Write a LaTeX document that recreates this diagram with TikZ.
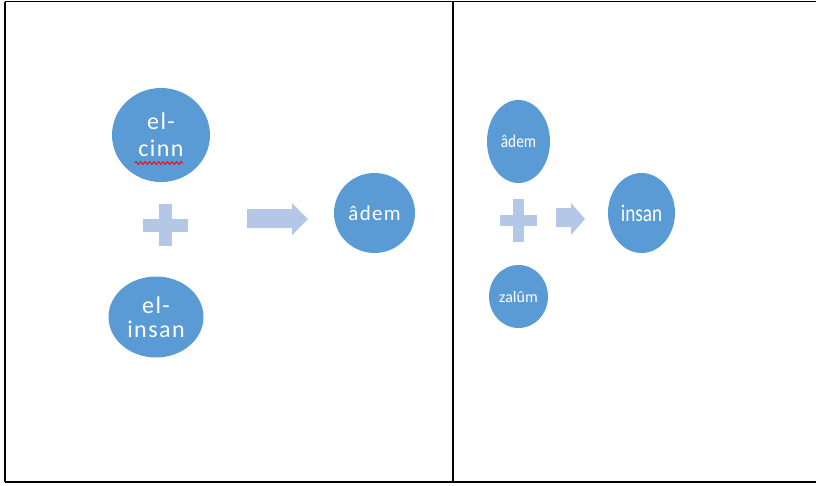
\documentclass[tikz,border=0pt]{standalone}
\usepackage{fontspec}
\setmainfont{Carlito}
\newfontfamily\spaced[LetterSpace=6]{Carlito}
\usetikzlibrary{shapes.geometric,decorations.pathmorphing}
\definecolor{circblue}{HTML}{5B9BD5}
\definecolor{lightblue}{HTML}{B4C7E7}
\tikzset{
  bubble/.style={ellipse, fill=circblue, inner sep=0pt, text=white, align=center},
  blockfill/.style={fill=lightblue, draw=none},
  rule/.style={line width=1.2pt, black},
  thickrule/.style={line width=2.4pt, black}
}
\begin{document}
\begin{tikzpicture}[x=1pt,y=-1pt]
\useasboundingbox (0,0) rectangle (816,485);
% table frame
\coordinate (tl) at (5,1.5);
\coordinate (tr) at (816,1.5);
\coordinate (bl) at (5,482);
\coordinate (br) at (816,482);
\coordinate (mt) at (453,1.5);
\coordinate (mb) at (453,482);
\draw[rule] (tl) -- (tr);
\draw[rule] (mt) -- (mb);
\draw[thickrule] (tl) -- (bl);
\draw[thickrule] (bl) -- (br);
% left panel
\node[bubble, minimum width=98pt, minimum height=94pt, font=\spaced\fontsize{24}{27}\selectfont] (cinn) at (161,135) {el-\\cinn};
\draw[red, line width=0.9pt, decorate, decoration={zigzag, segment length=4.5pt, amplitude=1.4pt}] (135,163) -- (183,163);
\node[bubble, minimum width=95pt, minimum height=81pt, font=\spaced\fontsize{24}{24}\selectfont] (insanL) at (156,317) {el-\\insan};
\node[bubble, minimum width=81pt, minimum height=80pt, font=\spaced\fontsize{21}{24}\selectfont] (ademL) at (374.5,213) {âdem};
% plus 1
\fill[blockfill] (143,218.5) rectangle (188,231.5);
\fill[blockfill] (159,204) rectangle (172,246);
% arrow 1
\fill[blockfill] (247,209) -- (292,209) -- (292,203) -- (308,219) -- (292,235) -- (292,228) -- (247,228) -- cycle;
% right panel
\node[bubble, minimum width=63pt, minimum height=83pt, font=\fontsize{18}{20}\selectfont] (ademR) at (518.5,141.5) {\scalebox{0.85}[1]{âdem}};
\node[bubble, minimum width=59pt, minimum height=63pt, font=\fontsize{16}{18}\selectfont] (zalum) at (518.5,296.5) {zalûm};
\node[bubble, minimum width=67pt, minimum height=80pt, font=\fontsize{24}{26}\selectfont] (insanR) at (641.5,213) {\scalebox{0.8}[1]{insan}};
% plus 2
\fill[blockfill] (500,215) rectangle (537,226);
\fill[blockfill] (513,199) rectangle (524,242);
% arrow 2
\fill[blockfill] (556,208) -- (571,208) -- (571,203) -- (585,219) -- (571,235) -- (571,227) -- (556,227) -- cycle;
\end{tikzpicture}
\end{document}
